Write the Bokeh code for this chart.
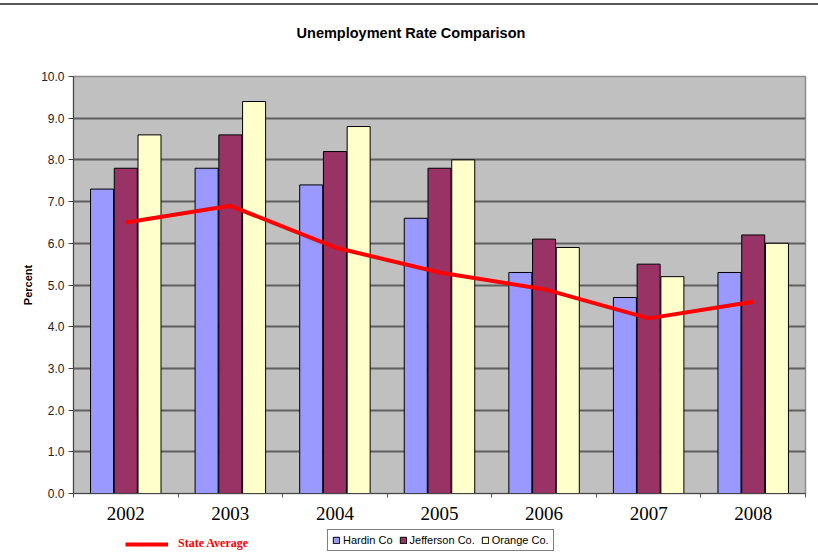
import numpy as np
from bokeh.plotting import figure
from bokeh.models import (Range1d, FixedTicker, PrintfTickFormatter, Legend, LegendItem,
                          Div, ColumnDataSource)
from bokeh.layouts import column
from bokeh.transform import dodge
from bokeh.embed import file_html
from bokeh.resources import INLINE

title_text = "Unemployment Rate Comparison"
years = ["2002", "2003", "2004", "2005", "2006", "2007", "2008"]
hardin = [7.3, 7.8, 7.4, 6.6, 5.3, 4.7, 5.3]
jefferson = [7.8, 8.6, 8.2, 7.8, 6.1, 5.5, 6.2]
orange = [8.6, 9.4, 8.8, 8.0, 5.9, 5.2, 6.0]
state_avg = [6.5, 6.9, 5.9, 5.3, 4.9, 4.2, 4.6]
y_ticks = [0, 1, 2, 3, 4, 5, 6, 7, 8, 9, 10]

n = len(years)
centers = np.arange(n) + 0.5
src = ColumnDataSource(dict(x=centers, hardin=hardin, jefferson=jefferson,
                            orange=orange, avg=state_avg))

SANS = "Liberation Sans"
SERIF = "Liberation Serif"

SERIES = [("Hardin Co", "hardin", "#9999FF"),
          ("Jefferson Co.", "jefferson", "#993366"),
          ("Orange Co.", "orange", "#FFFFCC")]
RED = "#FF0000"

DIV_H = 50
LEG_H = 24
MAIN_H = 552 - DIV_H - LEG_H
FRAME_LEFT = 73

p = figure(width=818, height=MAIN_H, output_backend="svg", toolbar_location=None,
           x_range=Range1d(0, n), y_range=Range1d(0, 10),
           min_border_left=FRAME_LEFT, min_border_right=13, min_border_top=76 - DIV_H,
           min_border_bottom=MAIN_H - (493 - DIV_H))
p.background_fill_color = "#C0C0C0"
p.border_fill_color = "white"
p.outline_line_color = "#8c8c8c"
p.outline_line_width = 1.5

bw = 0.22
off = 0.227
offsets = [-off, 0.0, off]
for (name, col, color), o in zip(SERIES, offsets):
    p.vbar(x=dodge("x", o), top=col, width=bw, source=src,
           fill_color=color, line_color="black", line_width=1)
p.line(x="x", y="avg", source=src, line_color=RED, line_width=4)

# grid
p.xgrid.visible = False
p.ygrid.ticker = FixedTicker(ticks=y_ticks)
p.ygrid.grid_line_color = "#5f5f5f"
p.ygrid.grid_line_width = 2

# y axis
ya = p.yaxis[0]
ya.ticker = FixedTicker(ticks=y_ticks)
ya.formatter = PrintfTickFormatter(format="%.1f")
ya.major_label_text_font = SANS
ya.major_label_text_font_size = "12px"
ya.major_label_text_color = "#222222"
ya.major_tick_out = 5
ya.major_tick_in = 0
ya.minor_tick_line_color = None
ya.major_label_standoff = 4
ya.axis_line_color = "#444444"
ya.major_tick_line_color = "#444444"
ya.axis_label = "Percent"
ya.axis_label_text_font = SANS
ya.axis_label_text_font_style = "bold"
ya.axis_label_text_font_size = "11px"
ya.axis_label_text_color = "black"
ya.axis_label_standoff = 4

# x axis
xa = p.xaxis[0]
xa.ticker = FixedTicker(ticks=list(centers), minor_ticks=list(range(n + 1)))
xa.major_label_overrides = {float(c): y for c, y in zip(centers, years)}
xa.major_label_text_font = SERIF
xa.major_label_text_font_size = "19px"
xa.major_label_text_color = "black"
xa.major_tick_line_color = None
xa.major_tick_out = 0
xa.major_tick_in = 0
xa.minor_tick_out = 4
xa.minor_tick_in = 0
xa.minor_tick_line_color = "#555555"
xa.axis_line_color = "#444444"
xa.major_label_standoff = 9

# legend strip: an axis-less figure; its renderers share the data but fall
# below its y range (off the page bottom), so only their legend swatches show
lg = figure(width=818, height=LEG_H, output_backend="svg", toolbar_location=None,
            x_axis_type=None, y_axis_type=None, x_range=Range1d(0, n),
            y_range=Range1d(20, 21), min_border=0)
lg.outline_line_color = None
lg.background_fill_color = "white"
lg.grid.visible = False
lr_line = lg.line(x="x", y="avg", source=src, line_color=RED, line_width=4)
lr_bars = [lg.vbar(x="x", top=col, width=bw, source=src, fill_color=color,
                   line_color="black", line_width=1) for name, col, color in SERIES]

# location = (left, bottom) in px from the strip frame's bottom-left corner
leg_line = Legend(items=[LegendItem(label="State Average", renderers=[lr_line])],
                  location=(125 - FRAME_LEFT, 1), orientation="horizontal",
                  border_line_color=None, background_fill_alpha=0,
                  padding=0, margin=0, glyph_width=43, glyph_height=14,
                  label_height=14, label_standoff=10,
                  label_text_font=SERIF, label_text_font_style="bold",
                  label_text_font_size="12px", label_text_color=RED)
leg_bars = Legend(items=[LegendItem(label=name, renderers=[r])
                         for (name, col, color), r in zip(SERIES, lr_bars)],
                  location=(327 - FRAME_LEFT, 1), orientation="horizontal",
                  border_line_color="black", border_line_width=1,
                  background_fill_color="white", background_fill_alpha=1,
                  padding=4, margin=0, spacing=6, glyph_width=8, glyph_height=8,
                  label_height=11, label_standoff=3,
                  label_text_font=SANS, label_text_font_size="11px",
                  label_text_color="black")
lg.add_layout(leg_line)
lg.add_layout(leg_bars)

header_html = (
    '<div style="position:relative;width:818px;height:%dpx;">'
    '<div style="position:absolute;left:0;top:3px;width:818px;height:0;'
    'border-top:2px solid #5a5a5a;"></div>'
    '<div style="position:absolute;left:0;top:23px;width:822px;text-align:center;'
    'font-family:\'Liberation Sans\';font-weight:bold;font-size:14.5px;color:black;">%s</div>'
    '</div>' % (DIV_H, title_text)
)
top = Div(text=header_html, width=818, height=DIV_H, margin=0)
p.margin = 0
lg.margin = 0
layout = column(top, p, lg, spacing=0, margin=0)

open("out.html", "w").write(file_html(layout, INLINE))
